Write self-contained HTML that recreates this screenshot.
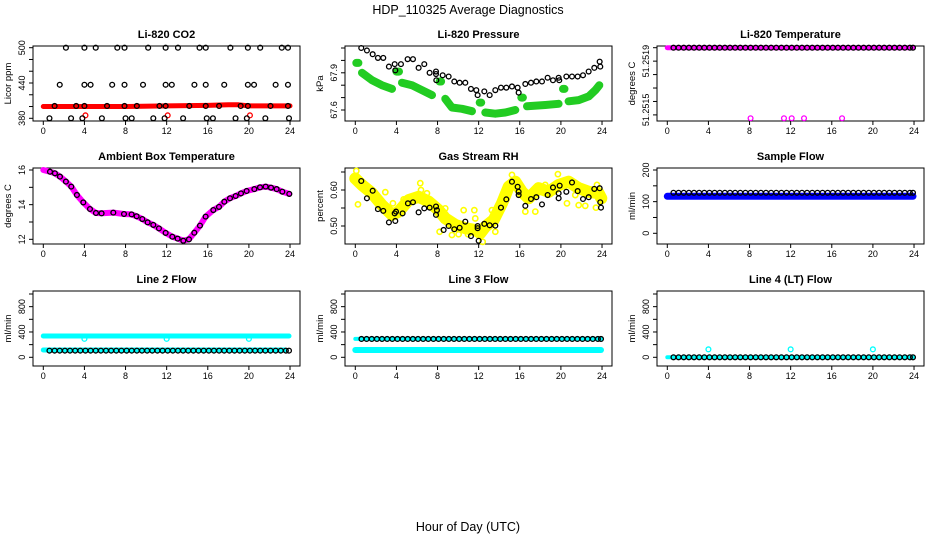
<!DOCTYPE html>
<html><head><meta charset="utf-8"><style>
html,body{margin:0;padding:0;background:#fff;}
svg{display:block;font-family:"Liberation Sans",Arial,sans-serif;}
</style></head><body>
<svg id="fig" width="936" height="540" viewBox="0 0 936 540">
<text x="468" y="14" text-anchor="middle" font-size="12.5">HDP_110325  Average Diagnostics</text>
<text x="468" y="531" text-anchor="middle" font-size="12.5">Hour of Day (UTC)</text>
</svg>
<script>
// ---- data ----
const xTicks = [0,4,8,12,16,20,24];
const blackHours = [0.6,1.1,1.6,2.1,2.6,3.1,3.6,4.1,4.6,5.1,5.6,6.1,6.6,7.1,7.6,8.1,8.6,9.1,9.6,10.1,10.6,11.1,11.6,12.1,12.6,13.1,13.6,14.1,14.6,15.1,15.6,16.1,16.6,17.1,17.6,18.1,18.6,19.1,19.6,20.1,20.6,21.1,21.6,22.1,22.6,23.1,23.6,23.9];
// CO2
const co2Black500 = [2.2,4.0,5.1,7.2,7.9,10.2,11.9,13.1,15.2,15.8,18.2,19.9,21.1,23.2,23.8];
const co2Black440 = [1.6,4.0,4.6,6.7,7.9,9.7,11.9,12.5,14.7,15.8,17.6,19.9,20.5,22.6,23.8];
const co2Black400 = [1.1,3.2,4.0,6.2,7.9,9.1,11.3,11.9,14.2,15.8,17.1,19.2,19.9,22.1,23.8];
const co2Black380 = [0.6,2.7,3.8,5.7,8.0,8.6,10.7,11.8,13.6,15.9,16.5,18.7,19.8,21.6,23.9];
const co2RedHours = [0,4,8,12,16,18,19,20,24];
const co2RedVals = [400,400,400,401,402,403,403,401,401];
const co2RedOutHours = [4.1,12.1,20.1];
const co2RedOutVals = [385,385,385];
// Pressure
const presBlackHours = [0.58,1.13,1.69,2.20,2.72,3.27,3.83,3.89,4.44,5.09,5.61,6.16,6.71,7.23,7.85,7.85,7.88,8.50,9.08,9.63,10.15,10.70,11.25,11.77,11.90,12.55,13.07,13.62,14.17,14.69,15.24,15.79,15.89,16.54,17.09,17.61,18.16,18.71,19.23,19.78,19.84,20.53,21.08,21.63,22.15,22.70,23.25,23.77,23.83];
const presBlackVals = [68.10,68.08,68.05,68.02,68.02,67.95,67.97,67.92,67.97,68.01,68.01,67.94,67.97,67.90,67.91,67.89,67.84,67.88,67.87,67.83,67.82,67.82,67.77,67.76,67.72,67.75,67.72,67.76,67.78,67.78,67.79,67.78,67.74,67.81,67.82,67.83,67.83,67.86,67.84,67.86,67.84,67.87,67.87,67.87,67.88,67.91,67.94,67.99,67.95];
const presGreenHours = [0.10,0.30,null,0.65,1.62,2.59,3.57,null,4.0,4.25,null,4.54,5.51,6.49,7.46,null,8.2,8.35,null,8.75,9.40,10.38,11.35,null,12.1,12.25,null,12.65,13.62,14.59,15.56,null,16.15,16.3,null,16.70,18.48,19.78,null,20.2,20.35,null,20.75,21.73,22.70,23.35,23.74];
const presGreenVals = [67.98,67.98,null,67.90,67.84,67.80,67.77,null,67.91,67.91,null,67.82,67.80,67.76,67.72,null,67.83,67.83,null,67.69,67.62,67.61,67.59,null,67.66,67.66,null,67.58,67.57,67.58,67.60,null,67.70,67.70,null,67.63,67.64,67.65,null,67.77,67.77,null,67.67,67.68,67.71,67.76,67.80];
// Li-820 temperature
const tempTop = 51.2519;
const tempMagOutHours = [8.1,11.35,12.1,13.3,17.0];
const tempMagOutVals = [51.25148,51.25148,51.25148,51.25148,51.25148];
// Ambient
const ambHours = [0.00,0.65,1.13,1.62,2.20,2.72,3.27,3.89,4.54,5.12,5.67,6.81,7.85,8.59,9.08,9.63,10.15,10.70,11.25,11.90,12.55,13.07,13.62,14.17,14.69,15.24,15.79,16.54,17.09,17.61,18.16,18.71,19.23,19.78,20.53,21.08,21.63,22.15,22.70,23.25,23.93];
const ambVals = [16.00,15.90,15.81,15.62,15.33,15.04,14.56,14.13,13.75,13.52,13.50,13.54,13.46,13.44,13.33,13.17,12.98,12.83,12.63,12.37,12.15,12.04,11.92,12.00,12.38,12.79,13.31,13.69,13.87,14.17,14.37,14.50,14.65,14.79,14.90,15.00,15.04,14.98,14.90,14.75,14.62];
// RH
const rhBlackHours = [0.58,1.13,1.69,2.20,2.72,3.27,3.83,3.89,3.96,4.60,5.12,5.61,6.16,6.71,7.23,7.85,7.85,7.94,8.59,9.08,9.63,10.15,10.70,11.25,11.90,11.90,12.00,12.55,13.07,13.62,14.17,14.69,15.24,15.79,15.89,15.89,16.54,17.09,17.61,18.16,18.71,19.23,19.78,19.78,19.88,20.53,21.08,21.63,22.15,22.70,23.25,23.77,23.83,23.90];
const rhBlackVals = [0.625,0.577,0.598,0.547,0.542,0.510,0.535,0.514,0.540,0.535,0.563,0.566,0.538,0.549,0.551,0.554,0.531,0.544,0.489,0.500,0.491,0.495,0.512,0.472,0.494,0.500,0.459,0.506,0.502,0.501,0.551,0.574,0.623,0.609,0.586,0.595,0.556,0.575,0.580,0.560,0.586,0.607,0.591,0.577,0.612,0.595,0.621,0.597,0.575,0.580,0.603,0.605,0.566,0.551];
const rhYellowTrendHours = [0.00,0.65,1.62,2.59,3.57,4.22,5.19,6.16,7.13,8.11,8.75,9.73,10.70,11.67,12.16,12.65,13.46,14.27,14.92,15.56,16.21,16.86,17.83,18.81,19.78,20.75,21.73,22.70,23.67,23.93];
const rhYellowTrendVals = [0.632,0.614,0.591,0.558,0.531,0.540,0.572,0.581,0.568,0.544,0.521,0.503,0.494,0.489,0.480,0.498,0.517,0.563,0.609,0.623,0.595,0.577,0.605,0.595,0.614,0.623,0.605,0.595,0.591,0.577];
const rhYellowHours = [0.10,0.10,0.26,2.92,3.66,4.70,6.39,6.32,6.97,8.75,8.20,10.54,11.58,11.67,10.96,12.22,12.39,13.62,13.29,15.24,16.54,17.44,18.48,19.71,20.69,20.59,21.40,21.73,23.51,23.41,22.37,17.51,10.05,9.40];
const rhYellowVals = [0.653,0.625,0.560,0.594,0.563,0.574,0.600,0.619,0.591,0.549,0.484,0.544,0.544,0.521,0.477,0.475,0.456,0.484,0.544,0.642,0.540,0.595,0.614,0.644,0.623,0.563,0.586,0.558,0.614,0.551,0.556,0.540,0.477,0.475];
// Sample flow
const sampleBlack = 128;
const sampleBlue = 117;
// Line flows
const line2Cyan = 337;
const line2CyanLow = 116;
const line2Black = 105;
const line2DipHours = [4,12,20];
const line2DipVals = [292,292,292];
const line3Black = 290;
const line3CyanLow = 116;
const line4Black = 0;
const line4CyanOutHours = [4,12,20];
const line4CyanOutVals = [126,126,126];

// ---- geometry ----
const NS = "http://www.w3.org/2000/svg";
const svg = document.getElementById('fig');
const colX0 = [43.3,355.3,667.3], colL=[33,345,657], colR=[300,612,924];
const rowT = [46,168,291], rowB=[121,244,366];
const HX = 10.28;

function mk(tag, attrs, parent){
  const e = document.createElementNS(NS, tag);
  for (const k in attrs) e.setAttribute(k, attrs[k]);
  (parent||svg).appendChild(e);
  return e;
}

function panel(col,row,title,ytitle,yfn,ticks,labels,labelVals,name){
  const g = mk('g',{});
  
  
  const L=colL[col],R=colR[col],T=rowT[row],B=rowB[row];
  const t = mk('text',{x:(L+R)/2,y:T-8,'text-anchor':'middle','font-size':'11','font-weight':'bold'},g);
  t.textContent = title;
  
  
  const box = mk('rect',{x:L,y:T,width:R-L,height:B-T,fill:'none',stroke:'#000','stroke-width':1},g);
  
  
  const xa = mk('g',{},g);
  
  
  mk('line',{x1:colX0[col],x2:colX0[col]+24*HX,y1:B,y2:B,stroke:'#000'},xa);
  xTicks.forEach(h=>{
    const x=colX0[col]+h*HX;
    mk('line',{x1:x,x2:x,y1:B,y2:B+4,stroke:'#000'},xa);
    const tl = mk('text',{x:x,y:B+13,'text-anchor':'middle','font-size':'9'},xa);
    tl.textContent = h;
    
    
  });
  const ya = mk('g',{},g);
  
  
  ticks.forEach(v=>{
    const y=yfn(v);
    mk('line',{x1:L-4,x2:L,y1:y,y2:y,stroke:'#000'},ya);
  });
  labels.forEach((lab,i)=>{
    const y=yfn(labelVals[i]);
    const tl = mk('text',{x:0,y:0,'text-anchor':'middle','font-size':'9',transform:`translate(${L-8},${y}) rotate(-90)`},ya);
    tl.textContent = lab;
    
    
  });
  const yt = mk('text',{x:0,y:0,'text-anchor':'middle','font-size':'9.5',transform:`translate(${L-22},${(T+B)/2}) rotate(-90)`},g);
  yt.textContent = ytitle;
  
  
  const xf = h=>colX0[col]+h*HX;
  return {g,xf,yfn};
}

function dots(p,hours,vals,color,name,sw,r){
  hours.forEach((h,i)=>{
    const c = mk('circle',{cx:p.xf(h),cy:p.yfn(vals[i]),r:r||2.4,fill:'none',stroke:color,'stroke-width':sw||1.3},p.g);
    
    
  });
}
function dotsConst(p,hours,val,color,name){
  dots(p,hours,hours.map(()=>val),color,name);
}
function band(p,hours,vals,color,w,name){
  let seg=[];
  const flush=()=>{
    if(seg.length){
      const pl = mk('polyline',{points:seg.join(' '),fill:'none',stroke:color,'stroke-width':w,'stroke-linecap':'round','stroke-linejoin':'round'},p.g);
      
      
    }
    seg=[];
  };
  hours.forEach((h,i)=>{
    if(h===null||vals[i]===null){flush();return;}
    seg.push(p.xf(h).toFixed(1)+','+p.yfn(vals[i]).toFixed(1));
  });
  flush();
}

// CO2
const pCO2 = panel(0,0,'Li-820 CO2','Licor ppm',v=>118.3-(v-380)*70.6/120,[380,400,420,440,460,480,500],['380','440','500'],[380,440,500],'co2');
band(pCO2,co2RedHours,co2RedVals,'#ff0000',5,'co2-red-series');
dots(pCO2,co2RedOutHours,co2RedOutVals,'#ff0000','co2-red-point');
dotsConst(pCO2,co2Black500,500,'#000','co2-black-point');
dotsConst(pCO2,co2Black440,437,'#000','co2-black-point');
dotsConst(pCO2,co2Black400,401,'#000','co2-black-point');
dotsConst(pCO2,co2Black380,380,'#000','co2-black-point');

// Pressure
const pP = panel(1,0,'Li-820 Pressure','kPa',v=>110-(v-67.6)*124,[67.6,67.7,67.8,67.9,68.0,68.1],['67.6','67.9'],[67.6,67.9],'pressure');
band(pP,presGreenHours,presGreenVals,'#22cc22',8,'pressure-green-series');
dots(pP,presBlackHours,presBlackVals,'#000','pressure-black-point');

// Li-820 temperature
const pT = panel(2,0,'Li-820 Temperature','degrees C',v=>47.7+(51.2519-v)*168000,[51.2519,51.25182,51.25174,51.25166,51.25158,51.2515],['51.2519','51.2515'],[51.25182,51.25153],'li820-temp');
band(pT,[0,23.9],[tempTop,tempTop],'#ff00ff',5,'li820-temp-magenta-series');
dotsConst(pT,blackHours,tempTop,'#000','li820-temp-black-point');
dots(pT,tempMagOutHours,tempMagOutVals,'#ff00ff','li820-temp-magenta-point');

// Ambient
const pA = panel(0,1,'Ambient Box Temperature','degrees C',v=>170+(16-v)*17.33,[12,13,14,15,16],['12','14','16'],[12,14,16],'ambient');
band(pA,ambHours,ambVals,'#ff00ff',6,'ambient-magenta-series');
dots(pA,ambHours.slice(1),ambVals.slice(1),'#000','ambient-black-point');

// RH
const pR = panel(1,1,'Gas Stream RH','percent',v=>190+(0.60-v)*360,[0.50,0.55,0.60,0.65],['0.50','0.60'],[0.50,0.60],'rh');
band(pR,rhYellowTrendHours,rhYellowTrendVals,'#ffff00',12,'rh-yellow-series');
dots(pR,rhYellowHours,rhYellowVals,'#ffff00','rh-yellow-point',1.6,2.6);
dots(pR,rhBlackHours,rhBlackVals,'#000','rh-black-point');

// Sample flow
const pS = panel(2,1,'Sample Flow','ml/min',v=>233.3-v*0.3165,[0,50,100,150,200],['0','100','200'],[0,100,200],'sample-flow');
band(pS,[0,23.9],[sampleBlue,sampleBlue],'#0000ff',7,'sample-flow-blue-series');
dotsConst(pS,blackHours,sampleBlack,'#000','sample-flow-black-point');

// Line 2
const yFlow = v=>357.3-v*0.0633;
const pL2 = panel(0,2,'Line 2 Flow','ml/min',yFlow,[0,200,400,600,800,1000],['0','400','800'],[0,400,800],'line2-flow');
band(pL2,[0,23.9],[line2Cyan,line2Cyan],'#00ffff',5,'line2-cyan-series');
dots(pL2,line2DipHours,line2DipVals,'#00ffff','line2-cyan-point');
band(pL2,[0,23.5],[line2CyanLow,line2CyanLow],'#00ffff',5,'line2-cyan-low-series');
dotsConst(pL2,blackHours,line2Black,'#000','line2-black-point');

// Line 3
const pL3 = panel(1,2,'Line 3 Flow','ml/min',yFlow,[0,200,400,600,800,1000],['0','400','800'],[0,400,800],'line3-flow');
band(pL3,[0,23.9],[line3CyanLow,line3CyanLow],'#00ffff',6,'line3-cyan-low-series');
band(pL3,[0,23.9],[line3Black,line3Black],'#00ffff',4,'line3-cyan-series');
dotsConst(pL3,blackHours,line3Black,'#000','line3-black-point');

// Line 4
const pL4 = panel(2,2,'Line 4 (LT) Flow','ml/min',yFlow,[0,200,400,600,800,1000],['0','400','800'],[0,400,800],'line4-flow');
band(pL4,[0,23.9],[line4Black,line4Black],'#00ffff',4,'line4-cyan-series');
dotsConst(pL4,blackHours,line4Black,'#000','line4-black-point');
dots(pL4,line4CyanOutHours,line4CyanOutVals,'#00ffff','line4-cyan-point');
</script>
</body></html>
